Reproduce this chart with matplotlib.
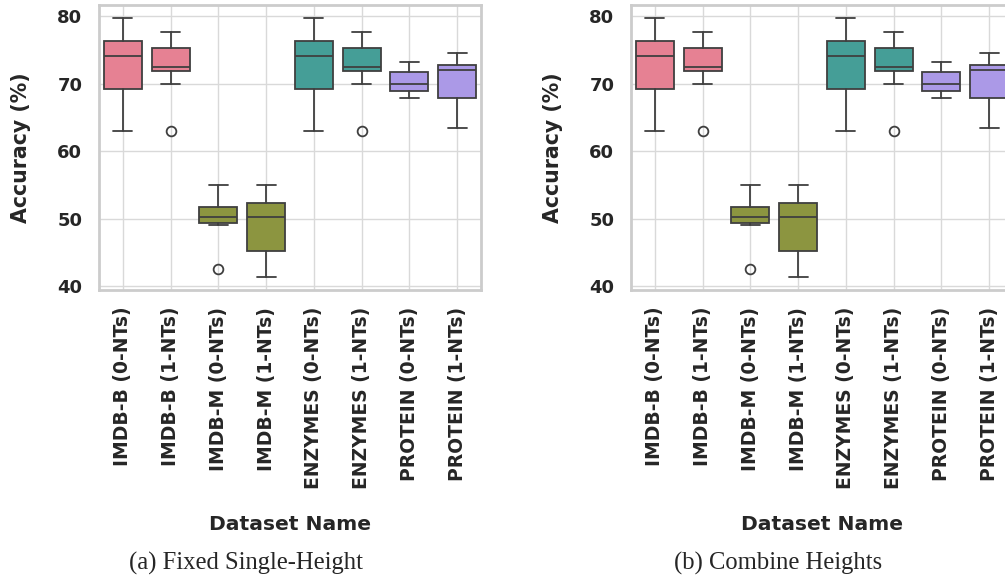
import matplotlib
matplotlib.use('Agg')
import matplotlib.pyplot as plt
import seaborn as sns

# Box statistics (same for both panels)
datasets = ['IMDB-B (0-NTs)', 'IMDB-B (1-NTs)', 'IMDB-M (0-NTs)', 'IMDB-M (1-NTs)',
            'ENZYMES (0-NTs)', 'ENZYMES (1-NTs)', 'PROTEIN (0-NTs)', 'PROTEIN (1-NTs)']
groups = [0, 0, 1, 1, 2, 2, 3, 3]
whislo = [63.0, 70.0, 49.1, 41.3, 63.0, 70.0, 67.9, 63.45]
q1 = [69.2, 71.8, 49.4, 45.2, 69.2, 71.8, 68.9, 67.9]
med = [74.1, 72.5, 50.2, 50.2, 74.1, 72.5, 70.0, 72.0]
q3 = [76.3, 75.2, 51.75, 52.3, 76.3, 75.2, 71.7, 72.7]
whishi = [79.7, 77.7, 54.9, 54.9, 79.7, 77.7, 73.2, 74.5]
fliers = [[], [63.0], [42.5], [], [], [63.0], [], []]
captions = ['(a) Fixed Single-Height', '(b) Combine Heights']

sns.set_style('whitegrid')
plt.rcParams['font.family'] = ['DejaVu Sans']
palette = [sns.desaturate(c, 0.75) for c in sns.color_palette('husl', 4)]
edge = '#3f3f3f'

fig = plt.figure(figsize=(10.05, 5.78), dpi=100)
W, H = 1005, 578

def draw_panel(left_px, caption, cap_x):
    ax = fig.add_axes([left_px / W, (H - 290) / H, 382 / W, 285 / H])
    stats = []
    for i in range(len(datasets)):
        stats.append({'whislo': whislo[i], 'q1': q1[i], 'med': med[i], 'q3': q3[i],
                      'whishi': whishi[i], 'fliers': fliers[i]})
    bp = ax.bxp(stats, positions=range(len(datasets)), widths=0.8, capwidths=0.4,
                patch_artist=True,
                boxprops=dict(edgecolor=edge, linewidth=1.3),
                medianprops=dict(color=edge, linewidth=1.3),
                whiskerprops=dict(color=edge, linewidth=1.3),
                capprops=dict(color=edge, linewidth=1.3),
                flierprops=dict(marker='o', markerfacecolor='none', markeredgecolor=edge,
                                markersize=7, markeredgewidth=1.3))
    for patch, g in zip(bp['boxes'], groups):
        patch.set_facecolor(palette[g])
    ax.set_axisbelow(True)
    ax.set_xlim(-0.5, len(datasets) - 0.5)
    ax.set_ylim(39.41, 81.63)
    ax.set_yticks([40, 50, 60, 70, 80])
    ax.set_xticks(range(len(datasets)))
    ax.set_xticklabels(datasets, rotation=90, fontsize=13.5, fontweight='bold')
    ax.tick_params(axis='y', labelsize=13, length=0, pad=12)
    ax.tick_params(axis='x', length=0, pad=12)
    for lab in ax.get_yticklabels():
        lab.set_fontweight('bold')
    ax.grid(True, color='#d9d9d9', linewidth=1.0)
    for sp in ax.spines.values():
        sp.set_color('#cccccc')
        sp.set_linewidth(2.0)
    ax.set_ylabel('Accuracy (%)', fontsize=14.8, fontweight='bold', labelpad=19, color='#262626')
    ax.set_xlabel('Dataset Name', fontsize=14.6, fontweight='bold', labelpad=19, color='#262626')
    fig.text(cap_x / W, 1 - 563 / H, caption, ha='center', va='center',
             fontsize=17.7, family='Liberation Serif')
    return ax

draw_panel(99, captions[0], 246)
draw_panel(631, captions[1], 778)

plt.savefig('out.png', dpi=100)
